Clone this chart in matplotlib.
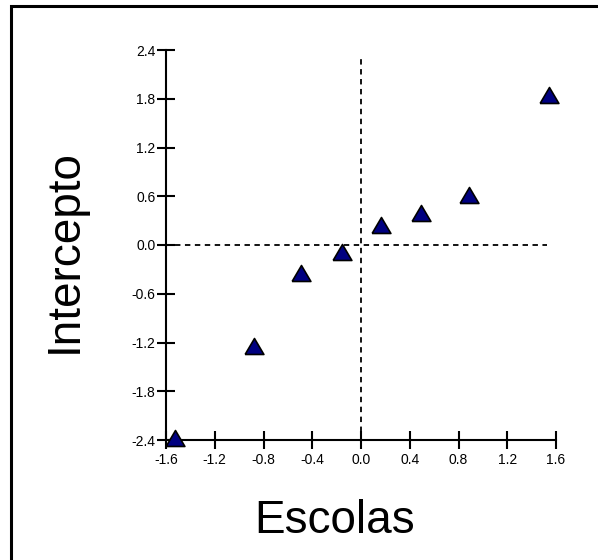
import matplotlib
matplotlib.use('Agg')
import matplotlib.pyplot as plt
from matplotlib.patches import Rectangle

plt.rcParams['font.family'] = ['Liberation Sans', 'DejaVu Sans']
plt.rcParams['axes.unicode_minus'] = False

# scores of the schools (x) against their intercepts (y)
escolas = [-1.53, -0.88, -0.49, -0.16, 0.16, 0.49, 0.89, 1.54]
intercepto = [-2.37, -1.24, -0.35, -0.09, 0.25, 0.39, 0.62, 1.85]

x_ticks = [-1.6, -1.2, -0.8, -0.4, 0.0, 0.4, 0.8, 1.2, 1.6]
y_ticks = [-2.4, -1.8, -1.2, -0.6, 0.0, 0.6, 1.2, 1.8, 2.4]

# extent of the dashed reference lines
hline_span = (-1.53, 1.53)
vline_span = (-2.3, 2.3)

# slightly flattened triangle, like the original marker
tri = [(-1, -0.85), (1, -0.85), (0, 0.85), (-1, -0.85)]

fig = plt.figure(figsize=(5.98, 5.6), dpi=100)
ax = fig.add_axes([166/598, 120/560, 390/598, 390/560])

ax.plot(hline_span, [0, 0], color='black', linestyle=(0, (3, 2.5)), linewidth=1.3)
ax.plot([0, 0], vline_span, color='black', linestyle=(0, (3, 2.5)), linewidth=1.3)

ax.plot(escolas, intercepto, linestyle='none', marker=tri, markersize=13.5,
        markerfacecolor='#000080', markeredgecolor='black', markeredgewidth=1.2,
        clip_on=False, zorder=5)

ax.set_xlim(-1.6, 1.6)
ax.set_ylim(-2.4, 2.4)
ax.set_xticks(x_ticks)
ax.set_yticks(y_ticks)
ax.set_xticklabels(['%.1f' % v for v in x_ticks])
ax.set_yticklabels(['%.1f' % v for v in y_ticks])

for side in ['top', 'right']:
    ax.spines[side].set_visible(False)
for side in ['left', 'bottom']:
    ax.spines[side].set_linewidth(1.5)

ax.tick_params(direction='inout', length=13, width=1.5, labelsize=10, pad=1)
ax.tick_params(axis='x', pad=3)

fig.text(65/598, 1 - 251/560, 'Intercepto', rotation=90, ha='center', va='center', fontsize=33)
fig.text(335/598, 27/560, 'Escolas', ha='center', va='baseline', fontsize=33)

# outer frame (only top and left edges visible in the picture)
fig.patches.append(Rectangle((11/598, -0.1), 1.2, 1 - 6/560 + 0.1, transform=fig.transFigure,
                             fill=False, edgecolor='black', linewidth=2.2))

plt.savefig('out.png', dpi=100)
plt.close()
